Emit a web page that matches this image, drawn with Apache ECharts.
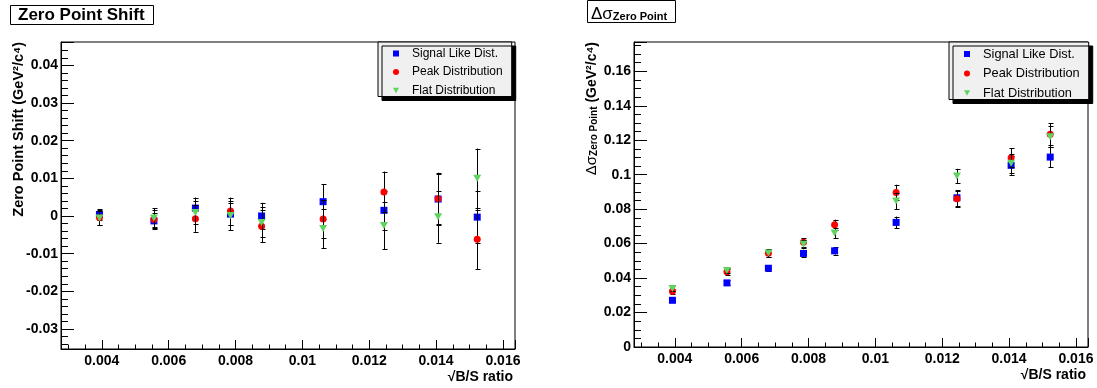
<!DOCTYPE html>
<html><head><meta charset="utf-8">
<script src="https://cdn.jsdelivr.net/npm/echarts@6/dist/echarts.min.js"></script>
<style>html,body{margin:0;padding:0;background:#fff}#c{width:1097px;height:388px}</style>
</head><body><div id="c"></div>
<script>
// ---------- data ----------
const xValues = [0.00393, 0.00556, 0.00680, 0.00785, 0.00878, 0.01062, 0.01244, 0.01406, 0.01523];
const seriesNames = ['Signal Like Dist.', 'Peak Distribution', 'Flat Distribution'];

// left panel: Zero Point Shift
const shiftSignal    = [0.0004, -0.0013, 0.0021, 0.0005, 0.0000, 0.0038, 0.0015, 0.0045, -0.0003];
const shiftSignalErr = [0.0014, 0.0020, 0.0028, 0.0030, 0.0035, 0.0046, 0.0052, 0.0067, 0.0069];
const shiftPeak      = [-0.0004, -0.0009, -0.0007, 0.0013, -0.0027, -0.0008, 0.0064, 0.0046, -0.0062];
const shiftPeakErr   = [0.0020, 0.0025, 0.0035, 0.0036, 0.0043, 0.0050, 0.0054, 0.0069, 0.0079];
const shiftFlat      = [-0.0005, -0.0005, 0.0009, 0.0001, -0.0017, -0.0033, -0.0025, -0.0002, 0.0100];
const shiftFlatErr   = [0.0019, 0.0025, 0.0030, 0.0038, 0.0040, 0.0052, 0.0063, 0.0069, 0.0079];

// right panel: Delta sigma of the zero point
const sigmaSignal    = [0.0271, 0.0372, 0.0457, 0.0543, 0.0558, 0.0723, 0.0866, 0.1054, 0.1102];
const sigmaSignalErr = [0.0012, 0.0014, 0.0018, 0.0022, 0.0022, 0.0034, 0.0045, 0.0055, 0.0058];
const sigmaPeak      = [0.0324, 0.0436, 0.0544, 0.0608, 0.0709, 0.0897, 0.0860, 0.1098, 0.1234];
const sigmaPeakErr   = [0.0015, 0.0017, 0.0022, 0.0025, 0.0030, 0.0045, 0.0045, 0.0055, 0.0064];
const sigmaFlat      = [0.0339, 0.0444, 0.0546, 0.0597, 0.0662, 0.0848, 0.0992, 0.1066, 0.1220];
const sigmaFlatErr   = [0.0015, 0.0017, 0.0022, 0.0025, 0.0030, 0.0048, 0.0042, 0.0055, 0.0062];

// ---------- styling ----------
const FONT = '"Liberation Sans", Arial, Helvetica, sans-serif';
const COLORS = ['#0000ff', '#ff0000', '#5fd35f'];
const SYMBOLS = ['path://M0,0L10,0L10,10L0,10Z', 'circle', 'path://M0,0L10,0L5,9Z'];
const SYMSIZE = [7, 7, [8, 7]];

function errRender(params, api) {
  const x = api.value(0), y = api.value(1), e = api.value(2);
  const t = api.coord([x, y + e]), b = api.coord([x, y - e]);
  const px = Math.round(t[0]) + 0.5, cap = 2;
  const st = { stroke: '#000', lineWidth: 1 };
  return { type: 'group', children: [
    { type: 'line', shape: { x1: px, y1: t[1], x2: px, y2: b[1] }, style: st },
    { type: 'line', shape: { x1: px - cap, y1: Math.round(t[1]) + 0.5, x2: px + cap + 1, y2: Math.round(t[1]) + 0.5 }, style: st },
    { type: 'line', shape: { x1: px - cap, y1: Math.round(b[1]) + 0.5, x2: px + cap + 1, y2: Math.round(b[1]) + 0.5 }, style: st }
  ]};
}

function xAxisCfg(gi) {
  return {
    type: 'value', gridIndex: gi, min: 0.00278, max: 0.01636, splitNumber: 7,
    axisLine: { onZero: false, lineStyle: { color: '#000', width: 1 } },
    axisTick: { inside: true, length: 9, lineStyle: { color: '#000' } },
    minorTick: { show: true, splitNumber: 4, length: 4.5, lineStyle: { color: '#000' } },
    splitLine: { show: false },
    axisLabel: { showMinLabel: false, showMaxLabel: false, margin: 5, color: '#000',
      fontWeight: 'bold', fontSize: 14, fontFamily: FONT },
    name: '√B/S ratio', nameLocation: 'end', nameGap: -2,
    nameTextStyle: { align: 'right', verticalAlign: 'top', padding: [21, 0, 0, 0],
      color: '#000', fontWeight: 'bold', fontSize: 14, fontFamily: FONT }
  };
}

function yAxisCfg(gi, min, max, split, minorSplit, name, fontSize, rich) {
  return {
    type: 'value', gridIndex: gi, min: min, max: max, splitNumber: split,
    axisLine: { onZero: false, lineStyle: { color: '#000', width: 1 } },
    axisTick: { inside: true, length: 13, lineStyle: { color: '#000' } },
    minorTick: { show: true, splitNumber: minorSplit, length: 7, lineStyle: { color: '#000' } },
    splitLine: { show: false },
    axisLabel: { showMinLabel: min === 0, showMaxLabel: false, margin: 3, color: '#000',
      fontWeight: 'bold', fontSize: 14, fontFamily: FONT },
    name: name, nameLocation: 'end', nameGap: 0, nameRotate: 90,
    nameTextStyle: { align: 'right', verticalAlign: 'bottom', padding: [0, 0, 35, 0],
      color: '#000', fontWeight: 'bold', fontSize: fontSize, fontFamily: FONT, rich: rich }
  };
}

function makeSeries(gi, vals, errs) {
  const out = [];
  for (let k = 0; k < 3; k++) {
    out.push({
      type: 'custom', name: 'err' + gi + k, xAxisIndex: gi, yAxisIndex: gi, z: 2 + 2 * k,
      renderItem: errRender, encode: { x: 0, y: 1 }, silent: true,
      data: xValues.map((x, i) => [x, vals[k][i], errs[k][i]])
    });
    out.push({
      type: 'scatter', name: seriesNames[k], xAxisIndex: gi, yAxisIndex: gi, z: 3 + 2 * k,
      symbol: SYMBOLS[k], symbolSize: SYMSIZE[k], itemStyle: { color: COLORS[k], opacity: 1 },
      data: xValues.map((x, i) => [x, vals[k][i]])
    });
  }
  return out;
}

function legendCfg(left, fontSize) {
  return {
    data: seriesNames.map((n, k) => ({ name: n, icon: SYMBOLS[k] })),
    orient: 'vertical', left: left, top: 42,
    padding: [5.5, 9, 0, 15], itemGap: 6.5, itemWidth: 6, itemHeight: 6, symbolKeepAspect: true,
    backgroundColor: '#f0f0f0', borderColor: '#000', borderWidth: 1,
    shadowColor: '#000', shadowOffsetX: 4, shadowOffsetY: 4, shadowBlur: 0,
    selectedMode: false,
    textStyle: { fontSize: fontSize, lineHeight: 11, color: '#000', fontFamily: FONT, padding: [0, 0, 0, 8] }
  };
}

const chart = echarts.init(document.getElementById('c'), null, { renderer: 'canvas' });
chart.setOption({
  backgroundColor: '#fff',
  animation: false,
  title: [
    { text: 'Zero Point Shift', left: 10, top: 5, padding: [2, 9, 1, 8],
      borderColor: '#000', borderWidth: 1, backgroundColor: '#fff',
      textStyle: { fontSize: 17, fontWeight: 'bold', color: '#000', fontFamily: FONT } },
    { text: '{d|Δσ}{s|Zero Point}', left: 587, top: 5, padding: [1, 9, 0, 4],
      borderColor: '#000', borderWidth: 1, backgroundColor: '#fff',
      textStyle: { rich: {
        d: { fontSize: 17, fontFamily: FONT, fontWeight: 'normal', color: '#000', lineHeight: 16 },
        s: { fontSize: 11, fontWeight: 'bold', fontFamily: FONT, color: '#000', lineHeight: 10,
             verticalAlign: 'bottom', padding: [10, 0, 0, 0] } } } }
  ],
  legend: [legendCfg(378, 12), legendCfg(949, 12.8)],
  grid: [
    { left: 61, top: 42, width: 454, height: 307, show: true, borderColor: '#000', borderWidth: 1, containLabel: false },
    { left: 634, top: 42, width: 454, height: 305, show: true, borderColor: '#000', borderWidth: 1, containLabel: false }
  ],
  xAxis: [xAxisCfg(0), xAxisCfg(1)],
  yAxis: [
    yAxisCfg(0, -0.03531, 0.04619, 8, 5, 'Zero Point Shift (GeV²/c⁴)', 14.5, {}),
    yAxisCfg(1, 0, 0.177, 9, 4, '{d|Δσ}{s|Zero Point}{b| (GeV²/c⁴)}', 14, {
      d: { fontSize: 15, fontFamily: FONT, fontWeight: 'normal', color: '#000', lineHeight: 14 },
      s: { fontSize: 10, fontWeight: 'bold', fontFamily: FONT, color: '#000', lineHeight: 10,
           verticalAlign: 'bottom', padding: [8, 0, 0, 0] },
      b: { fontSize: 14, fontWeight: 'bold', fontFamily: FONT, color: '#000', lineHeight: 14 }
    })
  ],
  series: [].concat(
    makeSeries(0, [shiftSignal, shiftPeak, shiftFlat], [shiftSignalErr, shiftPeakErr, shiftFlatErr]),
    makeSeries(1, [sigmaSignal, sigmaPeak, sigmaFlat], [sigmaSignalErr, sigmaPeakErr, sigmaFlatErr])
  )
});
</script>
</body></html>
